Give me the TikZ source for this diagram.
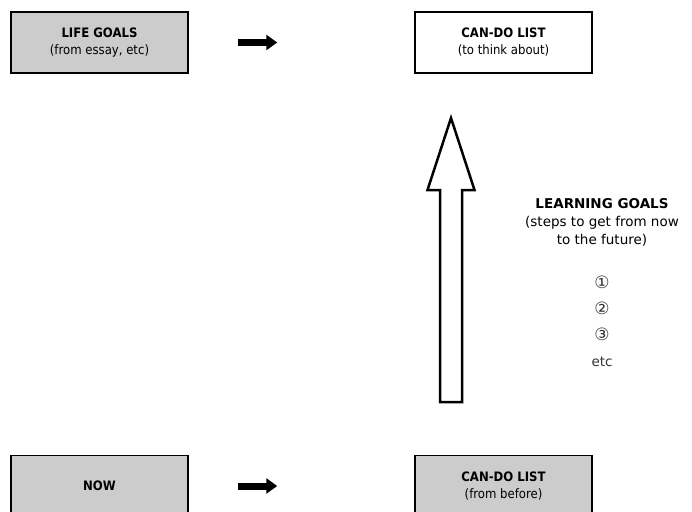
\documentclass[tikz,border=0pt]{standalone}
\usepackage{fontspec}
\setmainfont{DejaVu Sans}
\newfontfamily\boxfont{DejaVu Sans Condensed}
\usetikzlibrary{arrows.meta}
\definecolor{boxgray}{RGB}{204,204,204}

\begin{document}
\begin{tikzpicture}[x=1pt,y=-1pt,
  goalbox/.style={draw,line width=1.5pt,minimum width=177pt,minimum height=61pt,
    inner sep=0,align=center,font=\boxfont\fontsize{13}{17}\selectfont},
  fatarrow/.style={line width=7pt,-{Triangle[length=11pt,width=15pt]}},
  hollowarrow/.style={draw,line width=2.5pt,line join=miter,fill=white}]
\useasboundingbox (0,0) rectangle (692,511);
\clip (0,0) rectangle (692,511);
\node[goalbox,fill=boxgray] (life) at (99.5,42.5) {\textbf{LIFE GOALS}\\(from essay, etc)};
\node[goalbox] (cando) at (503.5,42.5) {\textbf{CAN-DO LIST}\\(to think about)};
\node[goalbox,fill=boxgray] (now) at (99.5,486) {\textbf{NOW}};
\node[goalbox,fill=boxgray] (before) at (503.5,486) {\textbf{CAN-DO LIST}\\(from before)};
\draw[fatarrow,shorten <=49pt,shorten >=137pt] (life) -- (cando);
\draw[fatarrow,shorten <=49pt,shorten >=137pt] (now) -- (before);
% big hollow arrow up to the can-do list
\coordinate (base) at (451,402);
\coordinate (tip) at (451,118);
\draw[hollowarrow] (base) ++(-11,0) -- ++(0,-212) -- ++(-12.5,0) -- (tip)
  -- ++(23.5,72) -- ++(-12.5,0) -- ++(0,212) -- cycle;
\node[align=center,font=\fontsize{13.5}{18}\selectfont] (learn) at (602,222)
  {\textbf{LEARNING GOALS}\\(steps to get from now\\to the future)};
\node[align=center,font=\fontsize{13.5}{26}\selectfont,text=black!80] (steps) at (602,321)
  {{\fontsize{17}{26}\selectfont ①}\\{\fontsize{17}{26}\selectfont ②}\\{\fontsize{17}{26}\selectfont ③}\\etc};
\end{tikzpicture}
\end{document}
